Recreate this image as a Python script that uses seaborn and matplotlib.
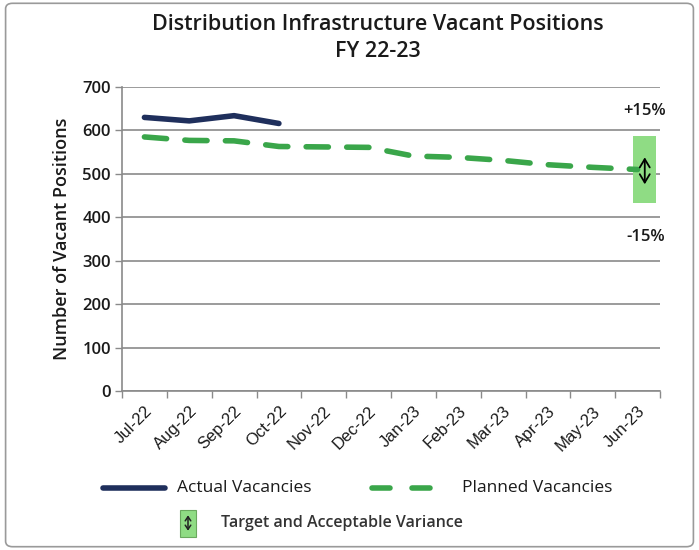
import numpy as np
import pandas as pd
import matplotlib
matplotlib.use("Agg")
import matplotlib.pyplot as plt
import seaborn as sns
from matplotlib.patches import Rectangle, FancyBboxPatch, FancyArrowPatch
from matplotlib.lines import Line2D

months = ["Jul-22", "Aug-22", "Sep-22", "Oct-22", "Nov-22", "Dec-22",
          "Jan-23", "Feb-23", "Mar-23", "Apr-23", "May-23", "Jun-23"]
actual_months = ["Jul-22", "Aug-22", "Sep-22", "Oct-22"]
actual = [630, 622, 634, 616]
planned = [585, 577, 576, 563, 562, 561, 541, 538, 531, 521, 515, 510]
target = 510
variance = 0.15
yticks = [0, 100, 200, 300, 400, 500, 600, 700]

sns.set_theme(style="white")
plt.rcParams['font.family'] = ['Open Sans', 'DejaVu Sans']

fig = plt.figure(figsize=(6.99, 5.5), dpi=100)
ax = fig.add_axes([122/699, 1-391/550, (660-122)/699, (391-87)/550])

df_p = pd.DataFrame({"month": months, "value": planned})
df_a = pd.DataFrame({"month": actual_months, "value": actual})

navy = "#1f2f5c"
green = "#3aa64a"
txt = "#1a1a1a"

sns.lineplot(data=df_p, x="month", y="value", ax=ax, sort=False, color=green,
             lw=4.0, zorder=3)
ax.lines[-1].set_dashes((4.0, 3.3))
ax.lines[-1].set_dash_capstyle("round")
sns.lineplot(data=df_a, x="month", y="value", ax=ax, sort=False, color=navy,
             lw=4.0, zorder=4)
ax.lines[-1].set_solid_capstyle("round")

# target band
lo, hi = target*(1-variance), target*(1+variance)
xi = len(months) - 1
ax.add_patch(Rectangle((xi - 0.1, lo), 0.5, hi - lo, facecolor="#8fdc84",
                       edgecolor="none", zorder=2))
ax.annotate("", xy=(xi + 0.16, target - 34), xytext=(xi + 0.16, target + 28),
            arrowprops=dict(arrowstyle="<->,head_length=0.5,head_width=0.3",
                            color="black", lw=1.3, shrinkA=0, shrinkB=0), zorder=5)

ax.text(xi + 0.62, hi + 58, "+15%", ha="right", va="center", fontsize=12,
        fontweight="semibold", color=txt, clip_on=False)
ax.text(xi + 0.62, lo - 80, "-15%", ha="right", va="center", fontsize=12,
        fontweight="semibold", color=txt, clip_on=False)

ax.set_xlim(-0.5, len(months) - 0.5)
ax.set_ylim(0, 700)
ax.set_yticks(yticks)
ax.set_yticklabels([str(v) for v in yticks], fontsize=12, fontweight="semibold",
                   color=txt)
ax.yaxis.grid(True, color="#8a8a8a", lw=1.2)
ax.set_axisbelow(True)
ax.set_xticks(range(len(months)))
ax.set_xticklabels(months, rotation=45, ha="right", rotation_mode="anchor",
                   fontsize=12, color=txt, family=["Liberation Sans", "DejaVu Sans"])
ax.set_xticks(np.arange(-0.5, len(months)), minor=True)
ax.tick_params(axis="x", which="major", length=0, pad=9)
ax.tick_params(axis="x", which="minor", length=5, color="#8a8a8a", width=1.0,
               direction="out", bottom=True)
ax.tick_params(axis="y", length=5, color="#8a8a8a", width=1.0, direction="out",
               left=True, pad=3)
for s in ["top", "right"]:
    ax.spines[s].set_visible(False)
for s in ["left", "bottom"]:
    ax.spines[s].set_color("#8a8a8a")
    ax.spines[s].set_linewidth(1.2)
ax.set_xlabel("")
ax.set_ylabel("Number of Vacant Positions", fontsize=13, fontweight="semibold",
              color=txt, labelpad=8)

fig.text(378/699, 1-25/550, "Distribution Infrastructure Vacant Positions",
         ha="center", va="center", fontsize=15.5, fontweight="semibold", color=txt)
fig.text(378/699, 1-52/550, "FY 22-23", ha="center", va="center", fontsize=15.5,
         fontweight="semibold", color=txt)

# legend
ly = 1 - 488/550
fig.add_artist(Line2D([103/699, 165/699], [ly, ly], color=navy, lw=4.0,
                      solid_capstyle="round"))
fig.text(177/699, ly, "Actual Vacancies", ha="left", va="center", fontsize=12.5,
         color=txt)
fig.add_artist(Line2D([372/699, 390/699], [ly, ly], color=green, lw=4.0,
                      solid_capstyle="round"))
fig.add_artist(Line2D([412/699, 430/699], [ly, ly], color=green, lw=4.0,
                      solid_capstyle="round"))
fig.text(462/699, ly, "Planned Vacancies", ha="left", va="center", fontsize=12.5,
         color=txt)
ty = 1 - 523/550
fig.add_artist(Rectangle((180/699, 1-537/550), 16/699, 27/550, facecolor="#8fdc84",
                         edgecolor="#6aa85e", lw=0.8, transform=fig.transFigure))
fig.add_artist(FancyArrowPatch((188/699, ty - 0.014), (188/699, ty + 0.014),
                               arrowstyle="<->,head_length=0.3,head_width=0.2",
                               mutation_scale=10, shrinkA=0, shrinkB=0,
                               color="#222222", lw=1.1, transform=fig.transFigure))
fig.text(221/699, ty, "Target and Acceptable Variance", ha="left", va="center",
         fontsize=11.5, fontweight="semibold", color="#333333")

fig.add_artist(FancyBboxPatch((0.008, 0.006), 0.984, 0.988,
                              boxstyle="round,pad=0,rounding_size=0.01",
                              facecolor="none", edgecolor="#9a9a9a", lw=1.2,
                              transform=fig.transFigure))

fig.savefig("out.png", dpi=100)
